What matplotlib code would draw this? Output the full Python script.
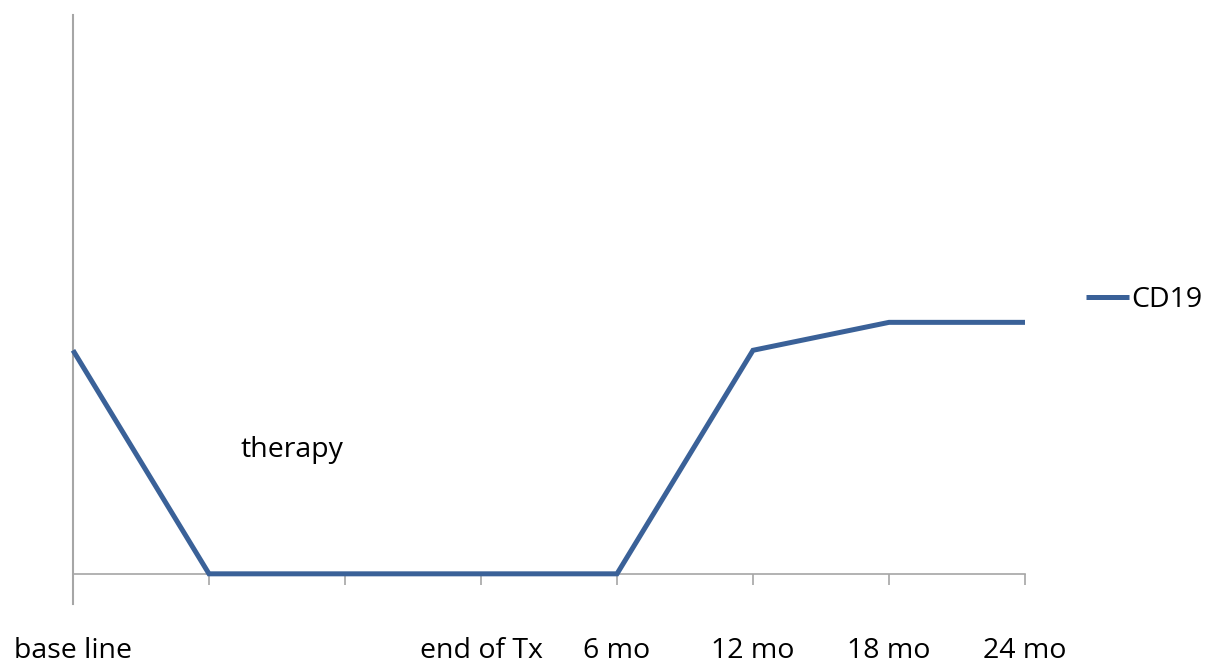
import matplotlib
matplotlib.use('Agg')
import matplotlib.pyplot as plt

# 数据
categories = ['base line', '', '', 'end of Tx', '6 mo', '12 mo', '18 mo', '24 mo']
cd19 = [8, 0, 0, 0, 0, 8, 9, 9]

plt.rcParams['font.family'] = ['Open Sans', 'DejaVu Sans']
fs = 20.5

fig = plt.figure(figsize=(12.06, 6.64), dpi=100)
ax = fig.add_axes([73 / 1206, 1 - 604 / 664, 952 / 1206, 589 / 664])

x = list(range(len(categories)))
ax.plot(x, cd19, color='#3A6198', linewidth=3.6, solid_joinstyle='miter',
        solid_capstyle='butt', label='CD19', clip_on=False, zorder=3)

ax.set_xlim(0, len(categories) - 1)
ax.set_ylim(-1.08, 20)

axis_color = '#A6A6A6'
for s in ['top', 'right']:
    ax.spines[s].set_visible(False)
ax.spines['left'].set_color(axis_color)
ax.spines['left'].set_linewidth(1.5)
ax.spines['bottom'].set_position(('data', 0))
ax.spines['bottom'].set_color(axis_color)
ax.spines['bottom'].set_linewidth(1.2)

ax.set_xticks(x)
ax.set_xticklabels(categories)
ax.set_yticks([])
ax.tick_params(axis='x', direction='out', length=8, width=1.2, color=axis_color,
               pad=37.5, labelsize=fs)

ax.text(1.235, 4.42, 'therapy', ha='left', va='center', fontsize=fs)

fig.legend(loc='center left', bbox_to_anchor=(1086 / 1206, 1 - 300 / 664),
           frameon=False, fontsize=fs, handlelength=1.5, handletextpad=0.1,
           borderaxespad=0, borderpad=0)

fig.savefig('out.png', dpi=100)
